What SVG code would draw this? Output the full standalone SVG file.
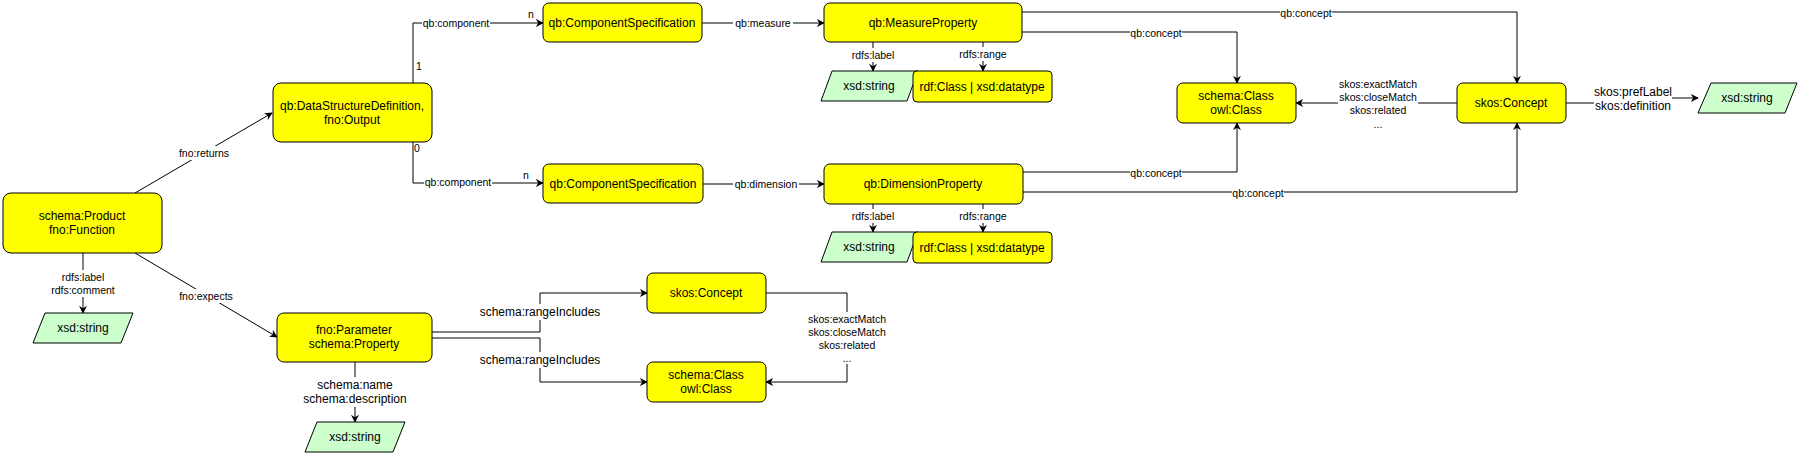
<svg xmlns="http://www.w3.org/2000/svg" width="1799" height="455" viewBox="0 0 1799 455">
<style>
.n{fill:#ffff00;stroke:#000;stroke-width:1}
.g{fill:#ccffcc;stroke:#000;stroke-width:1}
text{font-family:"Liberation Sans",Arial,sans-serif;fill:#000}
.t{font-size:12px;text-anchor:middle;dominant-baseline:central}
.l{font-size:10.5px;text-anchor:middle;dominant-baseline:central}
.e{fill:none;stroke:#000;stroke-width:1;marker-end:url(#a)}
.lb{fill:#fff}
</style>
<defs>
<marker id="a" viewBox="0 0 10 10" refX="9" refY="5" markerWidth="8" markerHeight="8" orient="auto" markerUnits="userSpaceOnUse"><path d="M0,0 L10,5 L0,10 L3,5 z" fill="#000"/></marker>
</defs>
<rect width="1799" height="455" fill="#fff"/>
<g id="connectors">
<path class="e" d="M135,193 L272,113"/>
<path class="e" d="M135,253 L277,337"/>
<path class="e" d="M83,253 V313"/>
<path class="e" d="M413,83 V23 H543"/>
<path class="e" d="M413,142 V183 H543"/>
<path class="e" d="M702,23 H824"/>
<path class="e" d="M703,184 H824"/>
<path class="e" d="M873,42 V71"/>
<path class="e" d="M983,42 V71"/>
<path class="e" d="M873,204 V232"/>
<path class="e" d="M983,204 V232"/>
<path class="e" d="M1022,12 H1517 V83"/>
<path class="e" d="M1022,32 H1237 V83"/>
<path class="e" d="M1023,172 H1237 V123"/>
<path class="e" d="M1023,192 H1517 V123"/>
<path class="e" d="M1457,103 H1296"/>
<path class="e" d="M1566,103 H1630 M1660,98 H1698"/>
<path class="e" d="M432,332 H540 V293 H647"/>
<path class="e" d="M432,338 H540 V382 H647"/>
<path class="e" d="M766,293 H847 V382 H766"/>
<path class="e" d="M355,362 V422"/>
<g>
<rect class="lb" x="179" y="146" width="50" height="14"/><text class="l" x="204" y="153">fno:returns</text>
<rect class="lb" x="178" y="289" width="56" height="14"/><text class="l" x="206" y="296">fno:expects</text>
<rect class="lb" x="53" y="270" width="60" height="27"/><text class="l" x="83" y="277">rdfs:label</text><text class="l" x="83" y="290">rdfs:comment</text>
<rect class="lb" x="422" y="16" width="68" height="14"/><text class="l" x="456" y="23">qb:component</text>
<rect class="lb" x="424" y="176" width="68" height="14"/><text class="l" x="458" y="182">qb:component</text>
<text class="l" x="419" y="66">1</text><text class="l" x="417" y="148">0</text>
<text class="l" x="531" y="14">n</text><text class="l" x="526" y="175">n</text>
<rect class="lb" x="733" y="16" width="60" height="14"/><text class="l" x="763" y="23">qb:measure</text>
<rect class="lb" x="733" y="177" width="66" height="14"/><text class="l" x="766" y="184">qb:dimension</text>
<rect class="lb" x="850" y="48" width="46" height="14"/><text class="l" x="873" y="55">rdfs:label</text>
<rect class="lb" x="958" y="47" width="50" height="14"/><text class="l" x="983" y="54">rdfs:range</text>
<rect class="lb" x="850" y="209" width="46" height="14"/><text class="l" x="873" y="216">rdfs:label</text>
<rect class="lb" x="958" y="209" width="50" height="14"/><text class="l" x="983" y="216">rdfs:range</text>
<rect class="lb" x="1280" y="6" width="52" height="14"/><text class="l" x="1306" y="13">qb:concept</text>
<rect class="lb" x="1130" y="26" width="52" height="14"/><text class="l" x="1156" y="33">qb:concept</text>
<rect class="lb" x="1130" y="166" width="52" height="14"/><text class="l" x="1156" y="173">qb:concept</text>
<rect class="lb" x="1232" y="186" width="52" height="14"/><text class="l" x="1258" y="193">qb:concept</text>
<rect class="lb" x="1338" y="77" width="80" height="54"/>
<text class="l" x="1378" y="84">skos:exactMatch</text><text class="l" x="1378" y="97">skos:closeMatch</text><text class="l" x="1378" y="110">skos:related</text><text class="l" x="1378" y="124">...</text>
<rect class="lb" x="1594" y="84" width="78" height="28"/>
<text class="t" x="1633" y="92">skos:prefLabel</text><text class="t" x="1633" y="106">skos:definition</text>
<rect class="lb" x="480" y="304" width="120" height="16"/><text class="t" x="540" y="312">schema:rangeIncludes</text>
<rect class="lb" x="480" y="352" width="120" height="16"/><text class="t" x="540" y="360">schema:rangeIncludes</text>
<rect class="lb" x="807" y="312" width="80" height="52"/>
<text class="l" x="847" y="319">skos:exactMatch</text><text class="l" x="847" y="332">skos:closeMatch</text><text class="l" x="847" y="345">skos:related</text><text class="l" x="847" y="358">...</text>
<rect class="lb" x="300" y="377" width="110" height="30"/>
<text class="t" x="355" y="385">schema:name</text><text class="t" x="355" y="399">schema:description</text>
</g>
</g>
<g id="product"><rect class="n" x="3" y="193" width="159" height="60" rx="8"/><text class="t" x="82" y="216">schema:Product</text><text class="t" x="82" y="230">fno:Function</text></g>
<g id="dsd"><rect class="n" x="273" y="83" width="159" height="59" rx="8"/><text class="t" x="352" y="106">qb:DataStructureDefinition,</text><text class="t" x="352" y="120">fno:Output</text></g>
<g id="cs1"><rect class="n" x="543" y="3" width="159" height="39" rx="6"/><text class="t" x="622" y="23">qb:ComponentSpecification</text></g>
<g id="cs2"><rect class="n" x="543" y="164" width="160" height="39" rx="6"/><text class="t" x="623" y="184">qb:ComponentSpecification</text></g>
<g id="measure"><rect class="n" x="824" y="3" width="198" height="39" rx="6"/><text class="t" x="923" y="23">qb:MeasureProperty</text></g>
<g id="dimension"><rect class="n" x="824" y="164" width="199" height="40" rx="6"/><text class="t" x="923" y="184">qb:DimensionProperty</text></g>
<g id="xsd1"><polygon class="g" points="832,71 918,71 907,101 821,101"/><text class="t" x="869" y="86">xsd:string</text></g>
<g id="range1"><rect class="n" x="913" y="71" width="139" height="31" rx="4"/><text class="t" x="982" y="87">rdf:Class | xsd:datatype</text></g>
<g id="xsd2"><polygon class="g" points="832,232 918,232 907,262 821,262"/><text class="t" x="869" y="247">xsd:string</text></g>
<g id="range2"><rect class="n" x="913" y="232" width="139" height="31" rx="4"/><text class="t" x="982" y="248">rdf:Class | xsd:datatype</text></g>
<g id="schemaclass1"><rect class="n" x="1177" y="83" width="119" height="40" rx="6"/><text class="t" x="1236" y="96">schema:Class</text><text class="t" x="1236" y="110">owl:Class</text></g>
<g id="concept1"><rect class="n" x="1457" y="83" width="109" height="40" rx="6"/><text class="t" x="1511" y="103">skos:Concept</text></g>
<g id="xsd3"><polygon class="g" points="1711,83 1797,83 1785,113 1698,113"/><text class="t" x="1747" y="98">xsd:string</text></g>
<g id="xsd4"><polygon class="g" points="45,313 133,313 121,343 33,343"/><text class="t" x="83" y="328">xsd:string</text></g>
<g id="param"><rect class="n" x="277" y="313" width="155" height="49" rx="7"/><text class="t" x="354" y="330">fno:Parameter</text><text class="t" x="354" y="344">schema:Property</text></g>
<g id="concept2"><rect class="n" x="647" y="273" width="119" height="40" rx="6"/><text class="t" x="706" y="293">skos:Concept</text></g>
<g id="schemaclass2"><rect class="n" x="647" y="362" width="119" height="40" rx="6"/><text class="t" x="706" y="375">schema:Class</text><text class="t" x="706" y="389">owl:Class</text></g>
<g id="xsd5"><polygon class="g" points="317,422 405,422 393,452 305,452"/><text class="t" x="355" y="437">xsd:string</text></g>
</svg>
